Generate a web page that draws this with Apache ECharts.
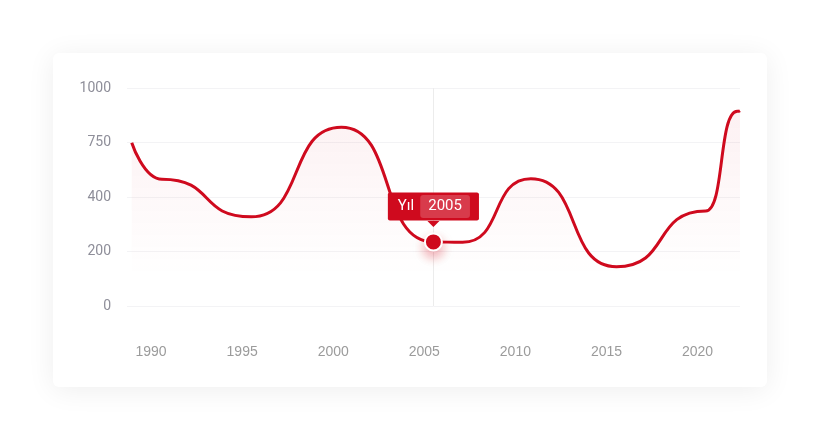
<!DOCTYPE html>
<html>
<head>
<meta charset="utf-8">
<script src="https://cdn.jsdelivr.net/npm/echarts@6/dist/echarts.min.js"></script>
<style>
  html, body { margin: 0; padding: 0; background: #ffffff; }
  #wrap { position: relative; width: 820px; height: 440px; overflow: hidden; }
  #card { position: absolute; left: 53px; top: 53px; width: 714px; height: 334px;
          background: #fff; border-radius: 6px; box-shadow: 0 3px 28px rgba(0,0,0,0.07); }
  #chart { position: absolute; left: 0; top: 0; width: 820px; height: 440px; }
</style>
</head>
<body>
<div id="wrap">
  <div id="card"></div>
  <div id="chart"></div>
</div>
<script>
// ---- data (key points of the curve, x in years) ----
var years  = [1988.94, 1990.6, 1995.5, 2000.45, 2005.5, 2007.1, 2010.85, 2015.55, 2020.45, 2022.18, 2022.33];
var values = [749,     581,    409,    820,     294,    292,    584,     180,     436,     893,     896];
var xTickLabels = [1990, 1995, 2000, 2005, 2010, 2015, 2020];
var yTickLabels = ['0', '200', '400', '750', '1000'];
var highlightIndex = 4;
var tooltipLabel = 'Yıl';

// ---- build ----
var RED = '#cf0a1e';
var seriesData = years.map(function (y, i) { return [y, values[i]]; });
var hPoint = [[years[highlightIndex], values[highlightIndex]]];
var hYearText = String(Math.floor(years[highlightIndex]));

var chart = echarts.init(document.getElementById('chart'), null, { renderer: 'canvas' });
chart.setOption({
  animation: false,
  backgroundColor: 'transparent',
  grid: { left: 127, right: 80, top: 88, bottom: 134, containLabel: false },
  xAxis: {
    type: 'value',
    min: 1988.68,
    max: 2022.33,
    axisLine: { show: false },
    axisTick: { show: false },
    splitLine: { show: false },
    axisLabel: {
      customValues: xTickLabels,
      formatter: function (v) { return String(v); },
      color: '#9b9b9b',
      fontSize: 14,
      fontFamily: 'Liberation Sans, Arial, sans-serif',
      margin: 39
    }
  },
  yAxis: {
    type: 'value',
    min: 0,
    max: 1000,
    interval: 250,
    axisLine: { show: false },
    axisTick: { show: false },
    splitLine: { lineStyle: { color: '#f3f3f5', width: 1 } },
    axisLabel: {
      formatter: function (v) { return yTickLabels[Math.round(v / 250)]; },
      color: '#8e8e99',
      fontSize: 14,
      fontFamily: 'Roboto, sans-serif',
      margin: 16
    }
  },
  series: [
    {
      type: 'line',
      data: seriesData,
      smooth: 0.6,
      smoothMonotone: 'x',
      showSymbol: false,
      symbol: 'none',
      lineStyle: { color: RED, width: 3 },
      areaStyle: {
        color: new echarts.graphic.LinearGradient(0, 0, 0, 1, [
          { offset: 0, color: 'rgba(208,2,27,0.08)' },
          { offset: 0.85, color: 'rgba(208,2,27,0.0)' }
        ])
      },
      z: 2
    },
    {
      type: 'scatter',
      data: hPoint,
      symbol: 'triangle',
      symbolRotate: 180,
      symbolSize: [12, 6],
      symbolOffset: [0, -18],
      itemStyle: { color: RED, opacity: 1 },
      silent: true,
      z: 4
    },
    {
      type: 'scatter',
      data: hPoint,
      symbol: 'circle',
      symbolSize: 17,
      itemStyle: {
        color: RED,
        opacity: 1,
        borderColor: '#ffffff',
        borderWidth: 2,
        shadowBlur: 12,
        shadowColor: 'rgba(208,2,27,0.35)',
        shadowOffsetY: 6
      },
      label: {
        show: true,
        position: 'top',
        distance: 12,
        formatter: '{a|' + tooltipLabel + '}{b|' + hYearText + '}',
        backgroundColor: RED,
        padding: [3, 9, 3, 10],
        borderRadius: 2,
        rich: {
          a: { color: '#fff', fontSize: 15, fontFamily: 'Roboto, sans-serif', padding: [0, 6, 0, 0], lineHeight: 22 },
          b: { color: '#fff', fontSize: 15, fontFamily: 'Roboto, sans-serif', backgroundColor: 'rgba(255,255,255,0.2)',
               borderRadius: 3, padding: [4, 8, 4, 8], lineHeight: 14 }
        }
      },
      markLine: {
        silent: true,
        symbol: 'none',
        label: { show: false },
        lineStyle: { color: '#ececec', width: 1, type: 'solid' },
        data: [{ xAxis: years[highlightIndex] }],
        z: 1
      },
      silent: true,
      z: 5
    }
  ]
});
</script>
</body>
</html>
